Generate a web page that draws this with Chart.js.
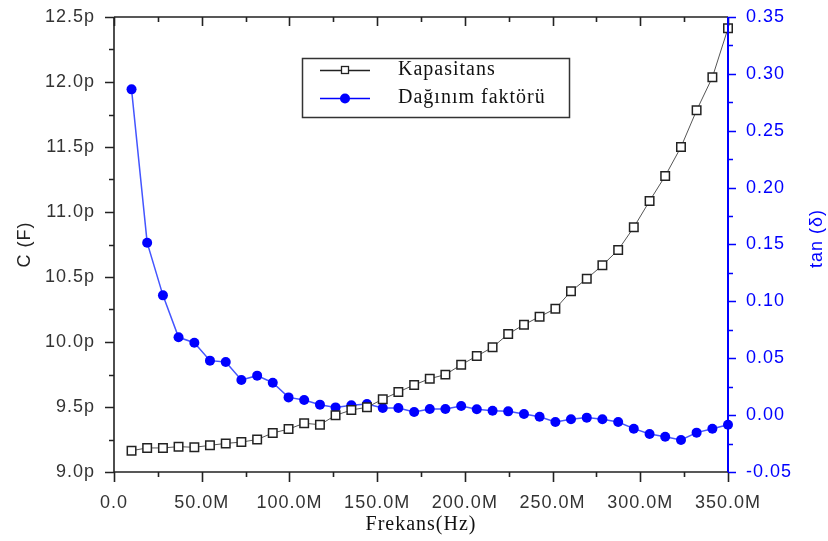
<!DOCTYPE html>
<html>
<head>
<meta charset="utf-8">
<script src="https://cdn.jsdelivr.net/npm/chart.js@4.4.1/dist/chart.umd.min.js"></script>
<style>
  html, body { margin: 0; padding: 0; background: #fff; }
  #wrap { width: 828px; height: 541px; }
</style>
</head>
<body>
<div id="wrap"><canvas id="capChart" width="828" height="541"></canvas></div>
<script>
// frequency in MHz
const freqMHz = [10, 18.9, 27.9, 36.8, 45.8, 54.7, 63.7, 72.6, 81.6, 90.5,
  99.5, 108.4, 117.4, 126.3, 135.3, 144.2, 153.2, 162.1, 171.1, 180,
  188.9, 197.9, 206.8, 215.8, 224.7, 233.7, 242.6, 251.6, 260.5, 269.5,
  278.4, 287.4, 296.3, 305.3, 314.2, 323.2, 332.1, 341.1, 350];
// capacitance in pF
const capacitance = [9.164, 9.185, 9.185, 9.195, 9.19, 9.205, 9.22, 9.23, 9.25, 9.30,
  9.33, 9.375, 9.364, 9.436, 9.477, 9.498, 9.56, 9.615, 9.67, 9.718,
  9.749, 9.825, 9.892, 9.959, 10.062, 10.133, 10.195, 10.256, 10.39, 10.487,
  10.59, 10.708, 10.882, 11.085, 11.277, 11.5, 11.782, 12.036, 12.413];
// tan(delta)
const dissipation = [0.2864, 0.1516, 0.1053, 0.0684, 0.0637, 0.0479, 0.0467, 0.0309, 0.0347, 0.0285,
  0.0156, 0.0133, 0.0092, 0.0068, 0.0086, 0.0098, 0.0063, 0.0063, 0.0027, 0.0054,
  0.0054, 0.008, 0.0051, 0.0039, 0.0033, 0.001, -0.0014, -0.006, -0.0037, -0.0022,
  -0.0037, -0.006, -0.0119, -0.0166, -0.019, -0.0219, -0.0154, -0.0119, -0.0084];

const seriesNames = ['Kapasitans', 'Dağınım faktörü'];
const xRange = [0, 350, 50];        // min, max, step (MHz)
const cRange = [9.0, 12.5, 0.5];    // pF
const tanRange = [-0.05, 0.35, 0.05];

const BLUE = '#0000ff';
const INK = '#222';

const pts = (ys) => freqMHz.map((f, i) => ({ x: f, y: ys[i] }));

const fitY = (w) => (s) => { s.width = w; s.paddingTop = 0; s.paddingBottom = 0; };

const axesPlugin = {
  id: 'axesPlugin',
  beforeDraw(chart) {
    chart.ctx.letterSpacing = '1px';
  },
  afterDraw(chart) {
    const { ctx, chartArea: a, scales } = chart;
    const x = scales.x, yl = scales.yC, yr = scales.yTan;
    ctx.save();
    ctx.lineCap = 'butt';
    // frame
    ctx.strokeStyle = INK;
    ctx.lineWidth = 1.6;
    ctx.beginPath();
    ctx.moveTo(a.left, a.bottom); ctx.lineTo(a.right, a.bottom);
    ctx.moveTo(a.left, a.top); ctx.lineTo(a.right, a.top);
    ctx.moveTo(a.left, a.top); ctx.lineTo(a.left, a.bottom);
    ctx.stroke();
    // x ticks (bottom outward, top inward)
    ctx.beginPath();
    for (let v = xRange[0]; v <= xRange[1] + 1e-9; v += xRange[2] / 2) {
      const px = Math.round(x.getPixelForValue(v)) + 0.5;
      const major = Math.abs(v / xRange[2] - Math.round(v / xRange[2])) < 1e-6;
      ctx.moveTo(px, a.bottom); ctx.lineTo(px, a.bottom + (major ? 10 : 5));
      ctx.moveTo(px, a.top); ctx.lineTo(px, a.top + (major ? 9 : 5));
    }
    // left ticks
    for (let v = cRange[0]; v <= cRange[1] + 1e-9; v += cRange[2] / 2) {
      const py = Math.round(yl.getPixelForValue(v)) + 0.5;
      const major = Math.abs(v / cRange[2] - Math.round(v / cRange[2])) < 1e-6;
      ctx.moveTo(a.left, py); ctx.lineTo(a.left - (major ? 9 : 5), py);
    }
    ctx.stroke();
    // right axis in blue
    ctx.strokeStyle = BLUE;
    ctx.lineWidth = 2;
    ctx.beginPath();
    ctx.moveTo(a.right, a.top); ctx.lineTo(a.right, a.bottom);
    ctx.stroke();
    ctx.lineWidth = 1.6;
    ctx.beginPath();
    for (let i = 0; i <= 16; i++) {
      const v = tanRange[0] + i * tanRange[2] / 2;
      const py = Math.round(yr.getPixelForValue(v)) + 0.5;
      ctx.moveTo(a.right, py); ctx.lineTo(a.right + (i % 2 === 0 ? 8 : 5), py);
    }
    ctx.stroke();

    // right title, reading bottom to top
    ctx.fillStyle = BLUE;
    ctx.font = '18px "Liberation Sans", Arial, sans-serif';
    ctx.letterSpacing = '1px';
    ctx.textAlign = 'center';
    ctx.textBaseline = 'middle';
    ctx.save();
    ctx.translate(817, (a.top + a.bottom) / 2 - 6);
    ctx.rotate(-Math.PI / 2);
    ctx.fillText('tan (δ)', 0, 0);
    ctx.restore();

    // legend
    const lx = 302.5, ly = 58.5, lw = 267, lh = 59;
    ctx.strokeStyle = '#333';
    ctx.lineWidth = 1.5;
    ctx.strokeRect(lx, ly, lw, lh);
    const rows = [70, 98];
    chart.data.datasets.forEach((ds, i) => {
      const ry = rows[i];
      ctx.strokeStyle = i === 0 ? INK : BLUE;
      ctx.lineWidth = 1.3;
      ctx.beginPath();
      ctx.moveTo(320, ry + 0.5); ctx.lineTo(370, ry + 0.5);
      ctx.stroke();
      if (i === 0) {
        ctx.fillStyle = '#fff';
        ctx.fillRect(341.5, ry - 3.5, 7, 7);
        ctx.lineWidth = 1.3;
        ctx.strokeRect(341.5, ry - 3.5, 7, 7);
      } else {
        ctx.fillStyle = BLUE;
        ctx.beginPath();
        ctx.arc(345, ry + 0.5, 5, 0, Math.PI * 2);
        ctx.fill();
      }
      ctx.fillStyle = '#111';
      ctx.font = '20px "Liberation Serif", "Times New Roman", serif';
      ctx.textAlign = 'left';
      ctx.textBaseline = 'middle';
      ctx.fillText(ds.label, 398, ry);
    });
    ctx.restore();
  }
};

new Chart(document.getElementById('capChart').getContext('2d'), {
  type: 'line',
  data: {
    datasets: [{
      label: seriesNames[0],
      data: pts(capacitance),
      yAxisID: 'yC',
      borderColor: '#555',
      borderWidth: 1,
      pointStyle: 'rect',
      pointRadius: 6,
      pointBorderWidth: 1.5,
      pointBorderColor: INK,
      pointBackgroundColor: '#fff',
      clip: false
    }, {
      label: seriesNames[1],
      data: pts(dissipation),
      yAxisID: 'yTan',
      borderColor: '#4455ff',
      borderWidth: 1.5,
      pointStyle: 'circle',
      pointRadius: 5,
      pointBorderWidth: 0,
      pointBackgroundColor: BLUE,
      clip: false
    }]
  },
  options: {
    responsive: false,
    animation: false,
    devicePixelRatio: 1,
    layout: { padding: { top: 17, left: 0, right: 0, bottom: 0 } },
    plugins: { legend: { display: false }, tooltip: { enabled: false } },
    scales: {
      x: {
        type: 'linear',
        min: xRange[0], max: xRange[1],
        afterFit: (s) => { s.height = 69; s.paddingLeft = 0; s.paddingRight = 0; },
        grid: { display: false },
        border: { display: false },
        ticks: {
          stepSize: xRange[2],
          padding: 12,
          maxRotation: 0,
          color: '#333',
          font: { family: '"Liberation Sans", Arial, sans-serif', size: 18 },
          callback: (v) => v === 0 ? '0.0' : v.toFixed(1) + 'M'
        },
        title: {
          display: true,
          text: 'Frekans(Hz)',
          color: '#111',
          padding: { top: 0, bottom: 4 },
          font: { family: '"Liberation Serif", "Times New Roman", serif', size: 20 }
        }
      },
      yC: {
        position: 'left',
        min: cRange[0], max: cRange[1],
        afterFit: fitY(114),
        grid: { display: false },
        border: { display: false },
        ticks: {
          stepSize: cRange[2],
          padding: 11,
          color: '#333',
          font: { family: '"Liberation Sans", Arial, sans-serif', size: 18 },
          callback: (v) => v.toFixed(1) + 'p'
        },
        title: {
          display: true,
          text: 'C (F)',
          color: '#222',
          padding: { top: 14, bottom: 0 },
          font: { family: '"Liberation Sans", Arial, sans-serif', size: 18 }
        }
      },
      yTan: {
        position: 'right',
        min: tanRange[0], max: tanRange[1],
        afterFit: fitY(100),
        grid: { display: false },
        border: { display: false },
        ticks: {
          stepSize: tanRange[2],
          padding: 10,
          color: BLUE,
          font: { family: '"Liberation Sans", Arial, sans-serif', size: 18 },
          callback: (v) => (Math.abs(v) < 1e-9 ? 0 : v).toFixed(2)
        }
      }
    }
  },
  plugins: [axesPlugin]
});
</script>
</body>
</html>
